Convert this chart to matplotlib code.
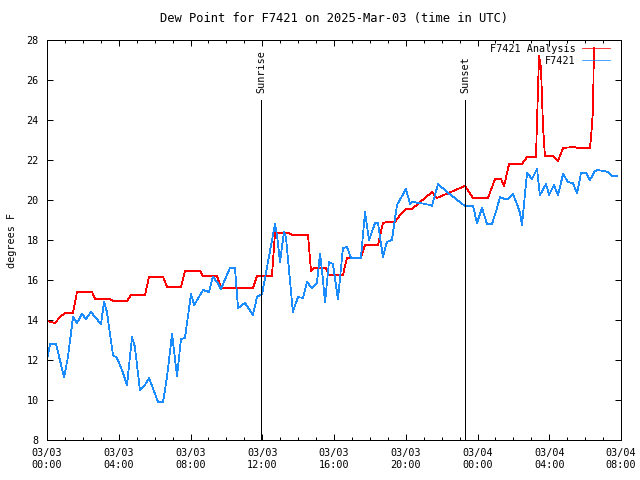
import matplotlib
matplotlib.use("Agg")
import matplotlib.pyplot as plt
import matplotlib.dates as mdates
from matplotlib.lines import Line2D
import pandas as pd

# hours after 2025-03-03 00:00 UTC, dew point in F
obs_hours = [0.0, 0.17, 0.5, 0.95, 1.17, 1.45, 1.67, 1.95, 2.17, 2.45, 2.73, 3.01,
             3.18, 3.34, 3.68, 3.9, 4.18, 4.46, 4.74, 4.9, 5.18, 5.46, 5.69, 6.19,
             6.47, 6.69, 6.97, 7.25, 7.47, 7.69, 8.03, 8.2, 8.7, 9.03, 9.25, 9.48,
             9.7, 10.2, 10.48, 10.65, 11.04, 11.48, 11.71, 11.99, 12.71, 12.82, 12.99,
             13.21, 13.32, 13.71, 13.99, 14.27, 14.49, 14.77, 15.05, 15.22, 15.33,
             15.5, 15.72, 15.94, 16.22, 16.5, 16.72, 16.95, 17.5, 17.73, 17.95, 18.29,
             18.45, 18.73, 18.95, 19.23, 19.51, 20.01, 20.24, 20.35, 20.79, 21.35,
             21.46, 21.8, 22.3, 23.3, 23.75, 23.97, 24.25, 24.53, 24.81, 25.09, 25.25,
             25.53, 25.7, 25.98, 26.26, 26.37, 26.48, 26.76, 27.04, 27.32, 27.48,
             27.82, 27.99, 28.26, 28.49, 28.77, 29.04, 29.32, 29.55, 29.77, 30.05,
             30.27, 30.55, 30.72, 31.28, 31.5, 31.78]
obs_dewpt = [12.0, 12.8, 12.8, 11.15, 12.15, 14.15, 13.85, 14.3, 14.05, 14.4, 14.1, 13.8,
             14.9, 14.4, 12.25, 12.1, 11.5, 10.75, 13.15, 12.65, 10.5, 10.75, 11.1, 9.9,
             9.9, 11.15, 13.3, 11.2, 13.05, 13.1, 15.3, 14.75, 15.5, 15.4, 16.15, 15.9,
             15.55, 16.6, 16.6, 14.6, 14.85, 14.25, 15.15, 15.3, 18.8, 18.25, 16.9,
             18.4, 18.15, 14.4, 15.15, 15.1, 15.9, 15.6, 15.85, 17.3, 16.5,
             14.9, 16.9, 16.8, 15.05, 17.6, 17.65, 17.1, 17.1, 19.4, 18.0, 18.85,
             18.85, 17.15, 17.9, 18.0, 19.75, 20.55, 19.8, 19.9, 19.85, 19.75,
             19.7, 20.8, 20.4, 19.7, 19.7, 18.85, 19.6, 18.8, 18.8, 19.6, 20.15,
             20.05, 20.05, 20.3, 19.65, 19.35, 18.75, 21.35, 21.05, 21.55, 20.25,
             20.8, 20.25, 20.75, 20.25, 21.3, 20.9, 20.85, 20.35, 21.35, 21.35,
             21.0, 21.45, 21.5, 21.4, 21.2, 21.2]

ana_hours = [0.0, 0.45, 0.72, 1.0, 1.45, 1.67, 2.51, 2.68, 3.51, 3.68, 4.46, 4.68,
             5.46, 5.69, 6.47, 6.69, 7.47, 7.69, 8.53, 8.7, 9.48, 9.7, 11.48, 11.71,
             12.54, 12.71, 13.49, 13.66, 14.55, 14.72, 14.88, 15.55, 15.72, 16.5,
             16.72, 17.5, 17.73, 18.45, 18.73, 18.95, 19.4, 19.68, 20.01, 20.35,
             21.46, 21.74, 23.3, 23.75, 24.58, 24.98, 25.31, 25.48, 25.76, 26.48,
             26.76, 27.26, 27.32, 27.43, 27.54, 27.65, 27.76, 28.21, 28.49, 28.77,
             29.32, 29.66, 30.27, 30.33, 30.44, 30.49]
ana_dewpt = [13.95, 13.85, 14.15, 14.35, 14.35, 15.4, 15.4, 15.05, 15.05, 14.95, 14.95, 15.25,
             15.25, 16.15, 16.15, 15.65, 15.65, 16.45, 16.45, 16.2, 16.2, 15.6, 15.6, 16.2,
             16.2, 18.35, 18.35, 18.25, 18.25, 16.45, 16.6, 16.6, 16.25, 16.25,
             17.1, 17.1, 17.75, 17.75, 18.85, 18.9, 18.9, 19.25, 19.55, 19.55,
             20.4, 20.1, 20.7, 20.1, 20.1, 21.05, 21.05, 20.7, 21.8, 21.8,
             22.15, 22.15, 24.0, 27.2, 26.6, 23.7, 22.2, 22.2, 21.95, 22.6,
             22.65, 22.6, 22.6, 23.15, 24.5, 27.6]

sun_events = ["Sunrise", "Sunset"]
sun_hours = [11.93, 23.3]

start = pd.Timestamp("2025-03-03 00:00")
obs_t = start + pd.to_timedelta(obs_hours, unit="h")
ana_t = start + pd.to_timedelta(ana_hours, unit="h")
sun_t = start + pd.to_timedelta(sun_hours, unit="h")

plt.rcParams["font.family"] = ["DejaVu Sans Mono"]
plt.rcParams["font.size"] = 7.3

fig = plt.figure(figsize=(6.4, 4.8), dpi=100)
ax = fig.add_axes([47 / 640, 40 / 480, 574 / 640, 400 / 480])

red = "#ff0000"
blue = "#1a8cff"
lw = 0.72  # one pixel
dlw = 0.55
ax.plot(ana_t, ana_dewpt, color=red, lw=dlw, antialiased=False)
ax.plot(obs_t, obs_dewpt, color=blue, lw=dlw, antialiased=False)

for name, t in zip(sun_events, sun_t):
    ax.vlines(t, 8, 25, color="black", lw=lw, antialiased=False)
    ax.text(t, 25.35, name, rotation=90, ha="center", va="bottom")

ax.set_xlim(start, start + pd.Timedelta(hours=32))
ax.set_ylim(8, 28)
ax.set_yticks(range(8, 29, 2))
ax.xaxis.set_major_locator(mdates.HourLocator(byhour=range(0, 24, 4)))
ax.xaxis.set_minor_locator(mdates.HourLocator())
ax.xaxis.set_major_formatter(mdates.DateFormatter("%m/%d\n%H:%M"))
ax.tick_params(which="both", direction="in", top=True, right=True, width=lw)
ax.tick_params(which="major", length=4, pad=6)
ax.tick_params(which="minor", length=2)
for s in ax.spines.values():
    s.set_linewidth(lw)
    s.set_antialiased(False)

ax.set_title("Dew Point for F7421 on 2025-Mar-03 (time in UTC)", pad=13)
ax.set_ylabel("degrees F", labelpad=7)

handles = [Line2D([], [], color=red, lw=dlw, antialiased=False),
           Line2D([], [], color=blue, lw=dlw, antialiased=False)]
ax.legend(handles, ["F7421 Analysis", "F7421"], loc="upper right",
          bbox_to_anchor=(0.981, 0.99), frameon=False,
          markerfirst=False, handlelength=2.8, handletextpad=0.6,
          labelspacing=0.2, borderaxespad=0, borderpad=0)

fig.savefig("out.png", dpi=100)
